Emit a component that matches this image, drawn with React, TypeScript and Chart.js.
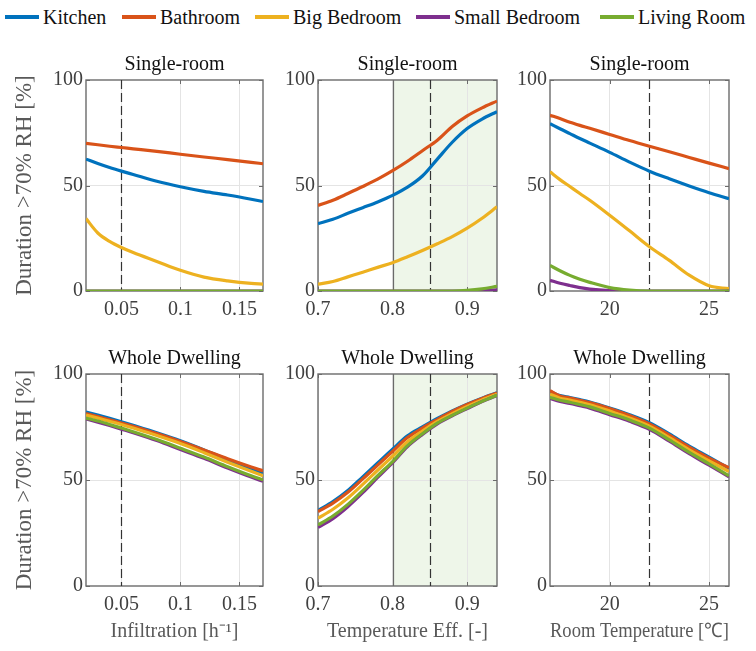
import React, { useEffect, useRef } from "react";
import { Chart, registerables } from "chart.js";
Chart.register(...registerables);

const FONT = "'Liberation Serif'";
// In this sandbox the serif face renders reliably for horizontal text only up to 20px.
const TXT = 20;

const SERIES_NAMES = ["Kitchen", "Bathroom", "Big Bedroom", "Small Bedroom", "Living Room"];
const SERIES_COLORS = ["#0072BD", "#D95319", "#EDB120", "#7E2F8E", "#77AC30"];

const Y_TICKS = [0, 50, 100];
const INF_TICKS = [0.05, 0.1, 0.15];
const EFF_TICKS = [0.7, 0.8, 0.9];
const TEMP_TICKS = [20, 25];

const INF_X = [0.02, 0.03, 0.04, 0.05, 0.06, 0.08, 0.1, 0.12, 0.14, 0.16, 0.17];
const EFF_X = [0.7, 0.72, 0.74, 0.76, 0.78, 0.8, 0.82, 0.84, 0.86, 0.88, 0.9, 0.92, 0.94];
const TEMP_X = [17, 17.5, 18, 18.5, 19, 20, 21, 22, 23, 24, 25, 26];

// Single-room: infiltration
const SR_INF_KITCHEN = [62.5, 60.4, 58.5, 56.8, 55.2, 52.0, 49.4, 47.2, 45.5, 43.5, 42.4];
const SR_INF_BATHROOM = [70.0, 69.3, 68.6, 68.0, 67.4, 66.2, 64.8, 63.5, 62.3, 61.0, 60.3];
const SR_INF_BIGBED = [34.3, 27.5, 23.5, 20.6, 18.2, 14.0, 9.8, 6.6, 4.8, 3.6, 3.3];
const SR_INF_SMALLBED = [0, 0, 0, 0, 0, 0, 0, 0, 0, 0, 0];
const SR_INF_LIVING = [0, 0, 0, 0, 0, 0, 0, 0, 0, 0, 0];

// Single-room: temperature efficiency
const SR_EFF_KITCHEN = [31.9, 34.0, 36.8, 39.5, 42.2, 45.3, 49.2, 54.5, 62.5, 70.5, 77.0, 81.5, 85.0];
const SR_EFF_BATHROOM = [40.5, 43.0, 46.2, 49.5, 53.0, 57.0, 61.5, 66.5, 71.5, 78.0, 83.0, 86.8, 90.0];
const SR_EFF_BIGBED = [3.2, 4.5, 6.7, 8.9, 11.2, 13.4, 16.2, 19.2, 22.4, 25.8, 29.8, 34.5, 39.9];
const SR_EFF_SMALLBED = [0, 0, 0, 0, 0, 0, 0, 0, 0, 0, 0, 0.2, 0.6];
const SR_EFF_LIVING = [0, 0, 0, 0, 0, 0, 0, 0, 0, 0, 0.3, 1.0, 2.2];

// Single-room: room temperature
const SR_TEMP_KITCHEN = [79.3, 76.9, 74.6, 72.3, 70.1, 65.7, 61.1, 56.8, 53.2, 49.8, 46.6, 43.7];
const SR_TEMP_BATHROOM = [83.3, 81.7, 80.0, 78.5, 77.1, 74.2, 71.3, 68.6, 66.0, 63.3, 60.6, 58.0];
const SR_TEMP_BIGBED = [56.5, 52.8, 49.5, 46.2, 43.0, 35.9, 28.5, 21.0, 14.5, 7.5, 2.5, 1.1];
const SR_TEMP_SMALLBED = [5.1, 3.7, 2.6, 1.6, 0.9, 0.2, 0, 0, 0, 0, 0, 0];
const SR_TEMP_LIVING = [12.1, 9.6, 7.4, 5.6, 4.1, 1.6, 0.4, 0, 0, 0, 0, 0];

// Whole dwelling: infiltration
const WD_INF_KITCHEN = [82.0, 80.6, 79.1, 77.5, 75.8, 72.3, 68.5, 64.2, 59.6, 55.3, 53.4];
const WD_INF_BATHROOM = [81.3, 79.9, 78.4, 76.9, 75.3, 71.9, 68.2, 64.2, 60.0, 56.1, 54.3];
const WD_INF_BIGBED = [80.6, 79.2, 77.7, 76.2, 74.5, 71.0, 67.2, 62.9, 58.4, 54.1, 52.0];
const WD_INF_SMALLBED = [78.8, 77.3, 75.7, 74.0, 72.3, 68.6, 64.4, 60.2, 55.7, 51.4, 49.4];
const WD_INF_LIVING = [79.2, 77.8, 76.2, 74.5, 72.8, 69.1, 65.0, 60.8, 56.3, 52.0, 50.0];

// Whole dwelling: temperature efficiency
const WD_EFF_KITCHEN = [35.6, 39.8, 45.0, 51.5, 58.0, 64.5, 70.8, 75.0, 79.0, 82.6, 85.8, 88.6, 91.1];
const WD_EFF_BATHROOM = [35.1, 39.1, 44.2, 50.5, 57.0, 63.5, 70.0, 74.5, 78.5, 82.3, 85.6, 88.5, 91.0];
const WD_EFF_BIGBED = [32.0, 36.2, 41.5, 47.9, 54.6, 61.2, 68.0, 73.1, 77.6, 81.3, 84.7, 87.8, 90.5];
const WD_EFF_SMALLBED = [27.6, 31.8, 37.4, 44.0, 51.2, 58.2, 65.8, 71.5, 76.5, 80.3, 83.7, 87.0, 89.9];
const WD_EFF_LIVING = [28.8, 33.0, 38.5, 45.0, 52.0, 58.7, 66.2, 71.8, 76.8, 80.5, 83.9, 87.1, 90.0];

// Whole dwelling: room temperature
const WD_TEMP_KITCHEN = [91.8, 89.8, 88.9, 87.9, 86.8, 84.0, 80.8, 77.0, 71.7, 66.0, 60.8, 55.5];
const WD_TEMP_BATHROOM = [92.1, 89.6, 88.7, 87.6, 86.5, 83.7, 80.4, 76.4, 71.2, 65.5, 60.3, 55.8];
const WD_TEMP_BIGBED = [90.5, 88.6, 87.7, 86.6, 85.5, 82.5, 79.3, 75.4, 70.0, 64.2, 59.0, 54.0];
const WD_TEMP_SMALLBED = [88.5, 87.0, 86.1, 85.0, 83.9, 80.8, 77.7, 73.9, 68.3, 62.4, 57.0, 51.5];
const WD_TEMP_LIVING = [89.0, 87.6, 86.7, 85.6, 84.5, 81.4, 78.3, 74.5, 68.9, 63.0, 57.6, 52.0];

const INF_RANGE = [0.02, 0.17];
const EFF_RANGE = [0.7, 0.94];
const TEMP_RANGE = [17, 26];
const INF_REF = 0.05;
const EFF_REF = 0.85;
const TEMP_REF = 22;
const EFF_BAND_START = 0.8;

type PanelDef = {
  title: string;
  xs: number[];
  ys: number[][];
  range: number[];
  ticks: number[];
  ref: number;
  band: number | null;
  xTitle: string | null;
  yTitle: string | null;
  left: number;
  top: number;
  w: number;
  h: number;
  yW: number;
  xH: number;
  padR: number;
};

const COLS = [
  { plotL: 86, plotR: 263, yW: 86, padR: 8 },
  { plotL: 318, plotR: 497, yW: 48, padR: 8 },
  { plotL: 550, plotR: 729, yW: 48, padR: 27 },
];
const ROWS = [
  { plotT: 80, plotB: 291, xH: 34 },
  { plotT: 374, plotB: 586, xH: 60 },
];
const TITLE_BOX = 27;

function geom(c: number, r: number) {
  const col = COLS[c];
  const row = ROWS[r];
  const left = col.plotL - col.yW;
  const top = row.plotT - TITLE_BOX;
  return {
    left,
    top,
    w: col.plotR + col.padR - left,
    h: row.plotB + row.xH - top,
    yW: col.yW,
    xH: row.xH,
    padR: col.padR,
  };
}

const YLABEL = "Duration >70% RH [%]";

const PANELS: PanelDef[] = [
  { title: "Single-room", xs: INF_X, ys: [SR_INF_KITCHEN, SR_INF_BATHROOM, SR_INF_BIGBED, SR_INF_SMALLBED, SR_INF_LIVING], range: INF_RANGE, ticks: INF_TICKS, ref: INF_REF, band: null, xTitle: null, yTitle: YLABEL, ...geom(0, 0) },
  { title: "Single-room", xs: EFF_X, ys: [SR_EFF_KITCHEN, SR_EFF_BATHROOM, SR_EFF_BIGBED, SR_EFF_SMALLBED, SR_EFF_LIVING], range: EFF_RANGE, ticks: EFF_TICKS, ref: EFF_REF, band: EFF_BAND_START, xTitle: null, yTitle: null, ...geom(1, 0) },
  { title: "Single-room", xs: TEMP_X, ys: [SR_TEMP_KITCHEN, SR_TEMP_BATHROOM, SR_TEMP_BIGBED, SR_TEMP_SMALLBED, SR_TEMP_LIVING], range: TEMP_RANGE, ticks: TEMP_TICKS, ref: TEMP_REF, band: null, xTitle: null, yTitle: null, ...geom(2, 0) },
  { title: "Whole Dwelling", xs: INF_X, ys: [WD_INF_KITCHEN, WD_INF_BATHROOM, WD_INF_BIGBED, WD_INF_SMALLBED, WD_INF_LIVING], range: INF_RANGE, ticks: INF_TICKS, ref: INF_REF, band: null, xTitle: "Infiltration [h\u207B\u00B9]", yTitle: YLABEL, ...geom(0, 1) },
  { title: "Whole Dwelling", xs: EFF_X, ys: [WD_EFF_KITCHEN, WD_EFF_BATHROOM, WD_EFF_BIGBED, WD_EFF_SMALLBED, WD_EFF_LIVING], range: EFF_RANGE, ticks: EFF_TICKS, ref: EFF_REF, band: EFF_BAND_START, xTitle: "Temperature Eff. [-]", yTitle: null, ...geom(1, 1) },
  { title: "Whole Dwelling", xs: TEMP_X, ys: [WD_TEMP_KITCHEN, WD_TEMP_BATHROOM, WD_TEMP_BIGBED, WD_TEMP_SMALLBED, WD_TEMP_LIVING], range: TEMP_RANGE, ticks: TEMP_TICKS, ref: TEMP_REF, band: null, xTitle: "Room Temperature [\u2103]", yTitle: null, ...geom(2, 1) },
];

function fmt(v: number) {
  return String(+Number(v).toFixed(3));
}

function Panel({ p }: { p: PanelDef }) {
  const ref = useRef<HTMLCanvasElement>(null);
  useEffect(() => {
    const decor = {
      id: "decor",
      beforeDraw(chart: any) {
        if (p.band == null) return;
        const { ctx, chartArea: a } = chart;
        const px = chart.scales.x.getPixelForValue(p.band);
        ctx.save();
        ctx.fillStyle = "#eef6e9";
        ctx.fillRect(px, a.top, a.right - px, a.bottom - a.top);
        ctx.restore();
      },
      beforeDatasetsDraw(chart: any) {
        const { ctx, chartArea: a } = chart;
        const xs = chart.scales.x;
        const ys = chart.scales.y;
        ctx.save();
        if (p.band != null) {
          const bx = Math.round(xs.getPixelForValue(p.band)) + 0.5;
          ctx.strokeStyle = "#6a6a6a";
          ctx.lineWidth = 1.2;
          ctx.beginPath();
          ctx.moveTo(bx, a.top);
          ctx.lineTo(bx, a.bottom);
          ctx.stroke();
        }
        ctx.strokeStyle = "#6b6b6b";
        ctx.lineWidth = 1.4;
        ctx.strokeRect(a.left, a.top, a.right - a.left, a.bottom - a.top);
        ctx.lineWidth = 1;
        ctx.beginPath();
        p.ticks.forEach((t) => {
          const x = Math.round(xs.getPixelForValue(t)) + 0.5;
          ctx.moveTo(x, a.bottom);
          ctx.lineTo(x, a.bottom - 4);
          ctx.moveTo(x, a.top);
          ctx.lineTo(x, a.top + 4);
        });
        Y_TICKS.forEach((t) => {
          const y = Math.round(ys.getPixelForValue(t)) + 0.5;
          ctx.moveTo(a.left, y);
          ctx.lineTo(a.left + 4, y);
          ctx.moveTo(a.right, y);
          ctx.lineTo(a.right - 4, y);
        });
        ctx.stroke();
        const rx = Math.round(xs.getPixelForValue(p.ref)) + 0.5;
        ctx.strokeStyle = "#333333";
        ctx.lineWidth = 1.2;
        ctx.setLineDash([9, 4]);
        ctx.beginPath();
        ctx.moveTo(rx, a.top);
        ctx.lineTo(rx, a.bottom);
        ctx.stroke();
        ctx.restore();
      },
    };

    const datasets = SERIES_NAMES.map((name, i) => ({
      label: name,
      data: p.xs.map((x, j) => ({ x, y: p.ys[i][j] })),
      borderColor: SERIES_COLORS[i],
      backgroundColor: SERIES_COLORS[i],
      borderWidth: 3.2,
      pointRadius: 0,
      fill: false,
      cubicInterpolationMode: "monotone" as const,
      order: SERIES_NAMES.length - 1 - i,
    }));

    const chart = new Chart(ref.current!, {
      type: "line",
      data: { datasets },
      options: {
        animation: false,
        responsive: false,
        maintainAspectRatio: false,
        devicePixelRatio: 1,
        font: { family: FONT },
        layout: { padding: { left: 0, top: 0, right: p.padR, bottom: 0 } },
        plugins: {
          legend: { display: false },
          tooltip: { enabled: false },
          title: {
            display: true,
            text: p.title,
            fullSize: false,
            color: "#111111",
            font: { family: FONT, size: TXT, weight: "normal", lineHeight: 24 / TXT },
            padding: { top: 0, bottom: 3 },
          },
        },
        scales: {
          x: {
            type: "linear",
            min: p.range[0],
            max: p.range[1],
            afterBuildTicks: (s: any) => {
              s.ticks = p.ticks.map((v) => ({ value: v }));
            },
            afterFit: (s: any) => {
              s.height = p.xH;
            },
            grid: { color: "#e4e4e4", lineWidth: 1, drawTicks: false },
            border: { display: false },
            ticks: {
              color: "#404040",
              font: { family: FONT, size: TXT, lineHeight: 1.2 },
              padding: 7,
              maxRotation: 0,
              autoSkip: false,
              callback: (v: any) => fmt(v),
            },
            title: {
              display: !!p.xTitle,
              text: p.xTitle || "",
              color: "#595959",
              font: { family: FONT, size: TXT, lineHeight: 28 / TXT },
              padding: { top: 0, bottom: 0 },
            },
          },
          y: {
            type: "linear",
            min: 0,
            max: 100,
            afterBuildTicks: (s: any) => {
              s.ticks = Y_TICKS.map((v) => ({ value: v }));
            },
            afterFit: (s: any) => {
              s.width = p.yW;
            },
            grid: {
              color: (c: any) => (c.tick && c.tick.value === 50 ? "#e4e4e4" : "rgba(0,0,0,0)"),
              lineWidth: 1,
              drawTicks: false,
            },
            border: { display: false },
            ticks: {
              color: "#404040",
              font: { family: FONT, size: TXT },
              padding: 3,
              callback: (v: any) => fmt(v),
            },
            title: {
              display: !!p.yTitle,
              text: p.yTitle || "",
              color: "#595959",
              font: { family: FONT, size: 23 },
              padding: { top: 11, bottom: 0 },
            },
          },
        },
      },
      plugins: [decor],
    } as any);

    return () => {
      chart.destroy();
    };
  }, []);
  return (
    <canvas
      ref={ref}
      width={p.w}
      height={p.h}
      style={{ position: "absolute", left: p.left, top: p.top, width: p.w, height: p.h }}
    />
  );
}

const LEGEND_POS = [5, 122, 255, 416, 600];

export default function App() {
  return (
    <div style={{ position: "absolute", left: 0, top: 0, width: 756, height: 651, background: "#ffffff", overflow: "hidden" }}>
      {SERIES_NAMES.map((name, i) => (
        <div
          key={name}
          style={{ position: "absolute", left: LEGEND_POS[i], top: 4, height: 26, display: "flex", alignItems: "center", whiteSpace: "nowrap" }}
        >
          <span style={{ display: "inline-block", width: 34, height: 4, background: SERIES_COLORS[i], marginRight: 4 }} />
          <span style={{ fontFamily: FONT, fontSize: TXT, color: "#111111", lineHeight: "26px" }}>{name}</span>
        </div>
      ))}
      {PANELS.map((p, i) => (
        <Panel key={i} p={p} />
      ))}
    </div>
  );
}
